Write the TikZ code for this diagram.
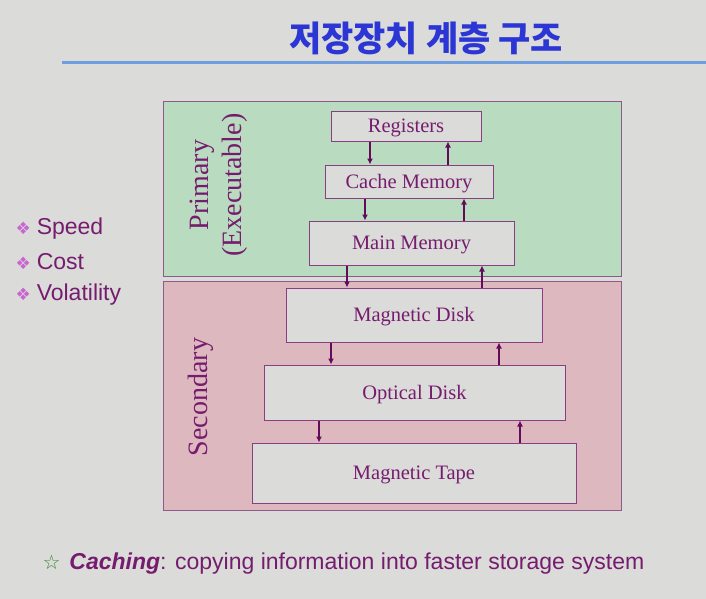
\documentclass[tikz,border=0pt]{standalone}
\usepackage{fontspec}
\usepackage{tikz}
\usetikzlibrary{arrows.meta}
\setmainfont{Liberation Serif}
\setsansfont{Liberation Sans}
\newfontfamily\kofont{Noto Sans CJK KR}
\newfontfamily\symfont{DejaVu Sans}
\definecolor{bgc}{HTML}{DBDBD9}
\definecolor{titleblue}{HTML}{2B36D4}
\definecolor{lineblue}{HTML}{6E9DE0}
\definecolor{primgreen}{HTML}{B9DCC1}
\definecolor{secpink}{HTML}{DDB9BF}
\definecolor{framec}{HTML}{8E5A8A}
\definecolor{boxc}{HTML}{8A3D82}
\definecolor{txtc}{HTML}{761C6E}
\definecolor{arrc}{HTML}{650A5A}
\definecolor{bulc}{HTML}{C865CF}
\definecolor{starc}{HTML}{3C8A3C}
\tikzset{
  level/.style={draw=boxc, line width=1pt, fill=bgc, inner sep=0pt,
    text=txtc, text depth=1pt, font=\fontsize{20.5}{24}\selectfont},
  region/.style={draw=framec, line width=1pt},
  flow/.style={draw=arrc, line width=2pt, -{Latex[length=6pt,width=6pt]}},
  bul/.style={anchor=west, text=txtc, font=\sffamily\fontsize{23}{27}\selectfont}
}
\begin{document}
\begin{tikzpicture}[x=1pt,y=-1pt]
\fill[bgc] (0,0) rectangle (706,599);
\useasboundingbox (0,0) rectangle (706,599);
% title
\node[text=titleblue, font=\kofont\bfseries\fontsize{35}{40}\selectfont] (title) at (426,38) {저장장치 계층 구조};
\draw[lineblue, line width=3pt] (62,63) -- (706,63);
% two regions
\draw[region, fill=primgreen] (163,102) rectangle (621,276);
\draw[region, fill=secpink] (163,281) rectangle (621,510);
\node[rotate=90, align=center, text=txtc, font=\fontsize{28}{33}\selectfont] (prim) at (219,185) {Primary\\(Executable)};
\node[rotate=90, text=txtc, font=\fontsize{28}{33}\selectfont] (sec) at (201,397) {Secondary};
% hierarchy
\node[level, minimum width=150pt, minimum height=29pt] (reg) at (406,126.5) {Registers};
\node[level, minimum width=168pt, minimum height=33pt] (cache) at (409,181.5) {Cache Memory};
\node[level, minimum width=205pt, minimum height=44pt] (main) at (411.5,243) {Main Memory};
\node[level, minimum width=256pt, minimum height=54pt] (mdisk) at (414,315) {Magnetic Disk};
\node[level, minimum width=301pt, minimum height=55pt] (odisk) at (414.5,392.5) {Optical Disk};
\node[level, minimum width=324pt, minimum height=60pt] (tape) at (414,473) {Magnetic Tape};
\foreach \a/\b/\dx/\ux in {reg/cache/370/448, cache/main/365/464, main/mdisk/347/482, mdisk/odisk/331/499, odisk/tape/319/520} {
  \draw[flow] (\a.south -| \dx,0) -- (\b.north -| \dx,0);
  \draw[flow] (\b.north -| \ux,0) -- (\a.south -| \ux,0);
}
% left list
\node[bul] (speed) at (12,229) {{\symfont\color{bulc}\fontsize{17}{20}\selectfont ❖}\hspace{6pt}Speed};
\node[bul] (cost) at (12,262) {{\symfont\color{bulc}\fontsize{17}{20}\selectfont ❖}\hspace{6pt}Cost};
\node[bul] (vol) at (12,295) {{\symfont\color{bulc}\fontsize{17}{20}\selectfont ❖}\hspace{6pt}Volatility};
% bottom note
\node[bul] (note) at (39,564) {{\symfont\color{starc}\fontsize{20}{24}\selectfont ☆}\hspace{9pt}\textbf{\textit{Caching}}: copying information into faster storage system};
\end{tikzpicture}
\end{document}
